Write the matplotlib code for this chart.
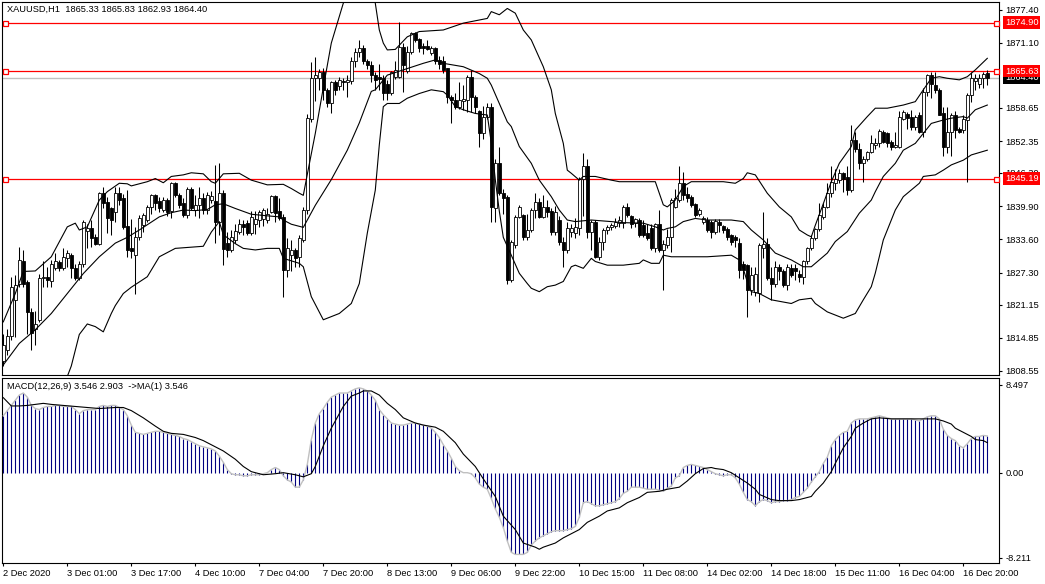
import numpy as np
import matplotlib
matplotlib.use("Agg")
import matplotlib.pyplot as plt

plt.rcParams['font.family'] = ['Liberation Sans', 'DejaVu Sans']

# ---------------- data ----------------
title_text = "XAUUSD,H1  1865.33 1865.83 1862.93 1864.40"
macd_text = "MACD(12,26,9) 3.546 2.903  ->MA(1) 3.546"

opens = [
 1810.5, 1812.5, 1815.3, 1822.0, 1825.2, 1829.5, 1825.5, 1819.8, 1816.5, 1818.2,
 1826.2, 1826.5, 1825.6, 1828.1, 1829.3, 1828.1, 1830.0, 1830.6, 1828.2, 1826.2,
 1829.0, 1835.2, 1835.7, 1834.0, 1832.8, 1842.4, 1840.8, 1839.5, 1838.9, 1842.4,
 1841.4, 1836.2, 1832.0, 1830.6, 1834.1, 1836.4, 1837.3, 1839.8, 1842.0, 1841.0,
 1839.2, 1841.1, 1839.0, 1844.3, 1842.1, 1840.5, 1838.2, 1843.3, 1839.3, 1840.1,
 1841.5, 1839.2, 1841.2, 1841.0, 1837.0, 1842.5, 1833.0, 1831.6, 1833.5, 1835.0,
 1836.5, 1836.8, 1834.8, 1836.6, 1837.3, 1837.5, 1837.3, 1838.8, 1841.9, 1839.0,
 1837.9, 1827.8, 1830.7, 1831.6, 1830.3, 1833.5, 1839.2, 1856.5, 1864.3, 1864.3,
 1865.5, 1862.1, 1859.5, 1863.5, 1862.8, 1863.8, 1863.6, 1863.7, 1867.5, 1869.4,
 1870.0, 1867.5, 1866.9, 1864.9, 1864.5, 1864.3, 1863.3, 1861.4, 1864.5, 1864.6,
 1870.3, 1865.6, 1869.4, 1872.9, 1871.7, 1870.5, 1870.5, 1869.2, 1870.0, 1867.8,
 1867.5, 1866.2, 1860.8, 1860.2, 1858.9, 1860.0, 1860.2, 1864.6, 1860.8, 1858.0,
 1853.8, 1857.0, 1858.9, 1839.5, 1848.1, 1842.4, 1841.7, 1825.9, 1832.5, 1837.9,
 1838.2, 1834.1, 1835.4, 1839.2, 1840.8, 1837.9, 1839.8, 1839.1, 1835.0, 1837.3,
 1833.2, 1831.6, 1835.0, 1834.8, 1835.7, 1845.2, 1847.5, 1835.1, 1837.0, 1830.3,
 1833.2, 1835.4, 1836.0, 1836.2, 1836.8, 1836.7, 1839.8, 1838.0, 1836.8, 1837.3,
 1836.3, 1834.8, 1835.7, 1831.9, 1836.6, 1831.6, 1832.5, 1834.1, 1839.8, 1841.1,
 1844.3, 1842.2, 1841.6, 1840.3, 1838.5, 1837.0, 1837.3, 1836.9, 1835.1, 1837.0,
 1836.1, 1835.5, 1834.4, 1834.1, 1832.9, 1829.0, 1828.7, 1824.0, 1823.5, 1823.4,
 1832.0, 1832.8, 1826.2, 1825.2, 1828.4, 1827.5, 1824.9, 1828.1, 1828.1, 1827.1,
 1826.5, 1829.4, 1831.9, 1833.8, 1835.5, 1837.9, 1839.8, 1842.4, 1844.3, 1845.0,
 1846.2, 1845.5, 1843.0, 1852.5, 1850.9, 1848.1, 1849.0, 1850.3, 1851.6, 1851.9,
 1854.1, 1853.8, 1852.2, 1851.3, 1851.3, 1856.6, 1857.5, 1856.9, 1855.1, 1857.3,
 1854.1, 1861.7, 1864.9, 1863.0, 1862.1, 1857.6, 1851.3, 1854.1, 1857.3, 1854.7,
 1854.4, 1856.3, 1861.1, 1863.7, 1863.3, 1864.3, 1865.33]

highs = [
 1815.5, 1816.5, 1826.5, 1826.8, 1832.2, 1831.6, 1825.8, 1820.5, 1820.0, 1827.0,
 1829.5, 1828.4, 1829.7, 1831.0, 1829.7, 1831.9, 1831.6, 1831.0, 1829.0, 1829.4,
 1837.3, 1836.5, 1837.3, 1834.7, 1842.7, 1843.5, 1841.7, 1839.8, 1843.6, 1843.6,
 1842.3, 1843.0, 1837.5, 1836.0, 1838.2, 1838.6, 1840.1, 1842.2, 1842.3, 1841.7,
 1841.7, 1841.5, 1844.6, 1844.6, 1842.4, 1841.4, 1843.6, 1843.6, 1842.0, 1843.5,
 1842.5, 1842.6, 1842.8, 1847.8, 1848.1, 1843.0, 1835.0, 1835.4, 1836.5, 1837.5,
 1837.3, 1837.3, 1839.1, 1839.1, 1839.2, 1839.5, 1839.5, 1842.1, 1842.1, 1841.5,
 1838.5, 1833.8, 1833.5, 1831.9, 1834.4, 1839.8, 1857.5, 1867.4, 1868.4, 1866.0,
 1866.3, 1862.4, 1863.7, 1864.0, 1864.5, 1864.3, 1865.0, 1868.4, 1870.0, 1871.6,
 1870.6, 1868.0, 1867.5, 1865.5, 1867.1, 1865.0, 1864.0, 1865.6, 1867.5, 1875.1,
 1871.0, 1870.5, 1873.2, 1873.2, 1871.9, 1871.0, 1871.5, 1870.5, 1870.3, 1868.5,
 1868.5, 1866.2, 1861.1, 1861.5, 1863.6, 1863.0, 1864.9, 1865.9, 1861.1, 1858.2,
 1859.0, 1859.5, 1859.5, 1849.0, 1851.3, 1843.3, 1842.0, 1833.5, 1838.2, 1840.2,
 1838.5, 1838.5, 1839.5, 1842.4, 1841.4, 1842.0, 1841.1, 1839.5, 1840.0, 1838.0,
 1834.0, 1837.0, 1836.5, 1837.6, 1845.5, 1850.0, 1849.0, 1837.3, 1837.3, 1834.0,
 1835.7, 1836.3, 1836.7, 1837.6, 1838.0, 1840.1, 1840.5, 1838.3, 1837.6, 1837.6,
 1837.3, 1836.6, 1836.6, 1836.8, 1839.2, 1833.5, 1835.5, 1841.4, 1843.3, 1847.5,
 1846.5, 1843.5, 1842.0, 1840.5, 1839.5, 1838.0, 1837.9, 1837.3, 1837.5, 1837.5,
 1836.4, 1836.0, 1834.6, 1834.5, 1833.8, 1829.5, 1829.0, 1828.4, 1828.4, 1832.9,
 1838.9, 1833.8, 1828.4, 1829.5, 1829.0, 1828.0, 1829.0, 1829.0, 1829.0, 1827.8,
 1829.7, 1832.2, 1834.4, 1835.7, 1840.5, 1840.5, 1844.3, 1847.5, 1847.1, 1847.1,
 1846.5, 1847.5, 1855.4, 1854.1, 1851.9, 1849.4, 1850.5, 1853.5, 1853.0, 1854.7,
 1854.4, 1854.1, 1852.5, 1854.1, 1858.0, 1858.2, 1857.9, 1858.2, 1857.3, 1857.9,
 1862.4, 1865.2, 1865.5, 1865.5, 1862.4, 1858.9, 1858.9, 1857.6, 1858.0, 1855.0,
 1857.3, 1861.4, 1865.5, 1865.2, 1865.2, 1865.5, 1865.83]

lows = [
 1809.5, 1811.5, 1814.5, 1815.0, 1824.6, 1824.6, 1815.5, 1812.5, 1813.5, 1817.8,
 1824.5, 1824.6, 1824.6, 1827.8, 1827.5, 1827.8, 1828.4, 1826.2, 1825.8, 1825.8,
 1828.4, 1832.0, 1832.2, 1832.5, 1832.5, 1839.5, 1834.8, 1834.5, 1837.0, 1840.2,
 1835.5, 1830.3, 1830.0, 1823.3, 1833.5, 1835.0, 1837.0, 1838.5, 1839.2, 1838.9,
 1838.9, 1838.0, 1837.6, 1841.7, 1839.5, 1837.9, 1837.6, 1839.2, 1838.0, 1837.6,
 1838.5, 1838.5, 1840.5, 1832.9, 1834.4, 1828.7, 1830.3, 1831.3, 1833.0, 1834.6,
 1834.5, 1834.4, 1834.4, 1834.7, 1836.0, 1836.1, 1836.8, 1838.6, 1837.0, 1837.3,
 1822.7, 1826.5, 1827.5, 1828.4, 1828.4, 1833.2, 1838.5, 1856.0, 1860.0, 1862.0,
 1860.1, 1858.9, 1857.6, 1861.1, 1862.0, 1862.1, 1860.8, 1863.3, 1866.5, 1868.4,
 1867.1, 1866.0, 1863.5, 1862.0, 1862.0, 1860.2, 1860.2, 1861.1, 1864.2, 1864.3,
 1861.7, 1865.3, 1869.0, 1871.2, 1869.4, 1869.0, 1869.7, 1868.8, 1867.1, 1866.0,
 1865.3, 1859.5, 1855.7, 1858.5, 1858.5, 1858.2, 1857.9, 1857.9, 1857.6, 1851.3,
 1852.8, 1856.5, 1837.0, 1837.0, 1842.0, 1838.5, 1825.2, 1825.5, 1831.9, 1837.6,
 1833.5, 1833.5, 1835.0, 1837.6, 1837.6, 1837.6, 1837.9, 1834.4, 1834.5, 1832.5,
 1828.4, 1831.0, 1834.0, 1833.8, 1834.5, 1838.0, 1833.8, 1831.6, 1830.0, 1829.7,
 1831.6, 1834.6, 1835.4, 1835.7, 1836.0, 1835.7, 1837.9, 1835.7, 1836.0, 1834.1,
 1834.0, 1833.5, 1831.6, 1831.3, 1831.3, 1824.0, 1832.0, 1831.3, 1839.5, 1840.8,
 1841.1, 1840.8, 1839.8, 1837.9, 1838.0, 1836.5, 1835.0, 1833.8, 1834.7, 1835.0,
 1834.8, 1833.5, 1832.6, 1832.2, 1826.2, 1826.0, 1818.9, 1823.0, 1822.8, 1821.7,
 1830.0, 1825.9, 1822.0, 1824.5, 1825.9, 1824.6, 1824.0, 1826.5, 1825.9, 1825.5,
 1825.2, 1829.0, 1831.6, 1833.5, 1835.2, 1837.5, 1839.5, 1841.7, 1843.0, 1844.3,
 1842.7, 1842.0, 1842.7, 1850.3, 1847.1, 1844.6, 1848.5, 1850.0, 1850.9, 1851.3,
 1851.9, 1851.3, 1850.6, 1851.0, 1851.0, 1856.3, 1854.7, 1854.4, 1854.4, 1853.8,
 1853.2, 1861.0, 1860.5, 1861.4, 1857.3, 1849.4, 1850.0, 1849.4, 1853.0, 1853.8,
 1853.8, 1844.6, 1859.8, 1862.1, 1862.4, 1862.4, 1862.93]

closes = [
 1813.5, 1815.3, 1824.6, 1825.0, 1829.7, 1825.2, 1819.8, 1815.7, 1817.5, 1826.2,
 1826.5, 1825.8, 1829.0, 1829.4, 1828.1, 1830.3, 1831.0, 1828.1, 1826.2, 1829.0,
 1837.0, 1835.8, 1833.8, 1832.8, 1842.4, 1840.5, 1837.6, 1837.3, 1842.4, 1841.1,
 1836.0, 1831.5, 1831.4, 1834.1, 1837.6, 1838.3, 1839.8, 1842.0, 1840.5, 1839.5,
 1841.1, 1838.9, 1844.3, 1842.1, 1840.2, 1838.2, 1843.3, 1839.5, 1840.1, 1841.5,
 1839.2, 1842.0, 1841.8, 1837.0, 1842.5, 1831.7, 1831.6, 1834.1, 1835.2, 1836.6,
 1836.0, 1834.8, 1837.9, 1837.4, 1838.9, 1839.2, 1838.5, 1841.9, 1838.6, 1837.6,
 1827.8, 1831.9, 1831.6, 1830.0, 1833.8, 1839.2, 1856.7, 1864.3, 1864.9, 1865.5,
 1862.1, 1859.5, 1863.5, 1862.1, 1864.0, 1863.6, 1863.9, 1867.5, 1869.4, 1870.0,
 1867.5, 1866.8, 1864.9, 1864.0, 1864.1, 1861.4, 1861.4, 1865.5, 1865.8, 1870.3,
 1866.8, 1869.4, 1872.9, 1871.6, 1870.0, 1870.0, 1869.8, 1870.0, 1867.5, 1867.1,
 1865.9, 1860.8, 1860.2, 1858.9, 1860.2, 1860.3, 1864.6, 1860.8, 1858.9, 1853.8,
 1857.0, 1858.9, 1839.8, 1848.1, 1842.4, 1841.4, 1825.9, 1833.2, 1837.9, 1839.8,
 1834.1, 1835.4, 1839.2, 1840.8, 1837.9, 1839.8, 1838.9, 1835.0, 1838.8, 1833.2,
 1831.6, 1835.7, 1835.7, 1836.0, 1845.2, 1847.5, 1835.1, 1837.0, 1830.3, 1833.2,
 1835.4, 1836.0, 1836.3, 1837.0, 1837.3, 1839.8, 1838.2, 1836.6, 1837.4, 1834.5,
 1834.5, 1833.8, 1831.9, 1836.6, 1831.6, 1832.7, 1834.1, 1841.2, 1841.4, 1844.3,
 1842.1, 1841.4, 1840.2, 1838.2, 1839.3, 1837.6, 1835.4, 1835.1, 1837.2, 1836.4,
 1835.4, 1834.1, 1833.2, 1833.5, 1827.8, 1827.8, 1824.0, 1826.8, 1827.1, 1832.5,
 1832.8, 1826.2, 1825.2, 1828.4, 1827.5, 1824.9, 1828.4, 1826.8, 1827.5, 1826.5,
 1829.4, 1831.9, 1833.8, 1835.5, 1838.2, 1839.8, 1842.4, 1844.6, 1845.2, 1846.2,
 1845.2, 1843.0, 1852.5, 1850.9, 1848.1, 1849.0, 1850.3, 1851.9, 1852.0, 1854.3,
 1852.2, 1851.9, 1851.3, 1851.6, 1856.9, 1857.9, 1856.7, 1855.1, 1857.0, 1854.1,
 1861.7, 1864.9, 1863.3, 1862.1, 1857.3, 1851.3, 1854.1, 1857.3, 1854.4, 1854.1,
 1856.6, 1861.1, 1864.3, 1864.3, 1864.3, 1865.2, 1864.40]

# Bollinger bands (bar index, price)
bb_upper = [(0,1817.9),(3,1823.3),(5,1827.5),(8,1827.6),(12,1830.3),(16,1836.0),(18,1836.7),(19,1835.4),
 (21,1836.0),(24,1841.1),(26,1842.7),(29,1844.3),(31,1844.2),(32,1843.8),(36,1844.6),(38,1845.2),
 (40,1844.4),(42,1845.6),(45,1845.9),(47,1846.3),(50,1846.1),(52,1844.6),(53,1844.3),(55,1846.1),
 (59,1846.2),(62,1844.9),(66,1844.0),(70,1844.1),(72,1843.3),(74,1842.4),(75,1842.0),(76,1846.0),
 (78,1853.8),(80,1862.5),(82,1871.0),(85,1878.6),(87,1881.5),(89,1882.5),(91,1882.0),(93,1878.6),
 (94,1873.5),(95,1871.0),(96,1869.7),(98,1869.8),(101,1872.2),(104,1873.2),(110,1873.5),(115,1874.8),
 (121,1875.7),(122,1877.0),(124,1876.4),(126,1877.6),(128,1876.7),(130,1873.5),(132,1871.6),(135,1866.5),
 (137,1862.1),(138,1857.6),(140,1851.9),(141,1846.8),(142,1846.2),(144,1844.9),(145,1845.6),(148,1845.6),
 (152,1844.9),(154,1844.6),(157,1844.6),(163,1844.6),(164,1842.4),(165,1840.2),(166,1839.8),(168,1841.1),
 (170,1843.7),(172,1844.6),(180,1844.6),(183,1844.3),(185,1845.2),(186,1846.3),(188,1845.9),(191,1842.4),
 (194,1839.8),(197,1837.9),(199,1835.4),(201,1834.45),(202,1834.1),(203,1836.3),(205,1840.4),(207,1844.6),
 (209,1848.1),(212,1851.3),(213,1854.45),(216,1857.0),(218,1858.6),(221,1858.6),(225,1859.2),(228,1859.85),
 (230,1862.1),(232,1864.3),(234,1864.6),(236,1864.3),(239,1864.0),(241,1864.6),(243,1865.9),(246,1868.1)]

bb_middle = [(0,1809.7),(4,1813.8),(8,1816.4),(12,1819.5),(16,1823.3),(20,1827.1),(24,1830.3),(28,1832.9),
 (31,1834.0),(34,1835.4),(39,1837.9),(42,1838.7),(45,1839.2),(48,1839.1),(51,1839.3),(53,1840.2),
 (55,1840.4),(58,1839.5),(62,1838.4),(66,1838.1),(69,1837.9),(70,1837.3),(72,1836.5),(75,1835.9),
 (78,1840.1),(82,1845.0),(86,1850.6),(89,1855.8),(92,1861.8),(93,1862.1),(96,1864.9),(100,1865.9),
 (105,1867.15),(108,1867.8),(110,1867.15),(115,1866.5),(119,1865.2),(121,1864.3),(122,1863.0),(124,1859.5),
 (126,1856.0),(127,1855.1),(129,1851.3),(132,1848.1),(134,1844.9),(137,1841.75),(139,1839.2),(141,1837.3),
 (143,1837.0),(147,1837.3),(152,1837.0),(155,1836.8),(160,1836.7),(163,1836.0),(165,1835.4),(166,1835.7),
 (168,1836.0),(170,1837.0),(173,1837.6),(176,1837.3),(182,1837.3),(185,1837.0),(187,1835.4),(190,1833.5),
 (193,1831.0),(197,1829.7),(200,1828.4),(202,1828.4),(206,1831.0),(208,1833.2),(211,1835.1),(214,1838.6),
 (217,1841.1),(218,1842.7),(220,1845.6),(223,1848.1),(225,1850.6),(228,1851.9),(230,1853.8),(232,1855.7),
 (235,1856.35),(237,1856.7),(240,1857.0),(241,1856.7),(243,1858.3),(246,1859.2)]

bb_lower = [(16,1807.5),(17,1809.5),(18,1812.5),(19,1815.5),(21,1817.5),(23,1817.0),(25,1816.0),(27,1819.5),
 (28,1821.0),(30,1823.3),(32,1824.5),(36,1826.5),(39,1830.3),(43,1831.9),(50,1832.3),(52,1835.0),
 (54,1837.0),(55,1834.5),(58,1832.8),(60,1831.9),(63,1831.6),(66,1831.9),(69,1831.9),(70,1830.0),
 (74,1829.05),(75,1828.4),(77,1822.7),(80,1818.3),(84,1819.5),(87,1821.4),(89,1825.2),(91,1834.8),
 (93,1843.0),(94,1851.6),(95,1858.9),(96,1859.5),(99,1859.5),(101,1860.5),(104,1861.4),(107,1862.1),
 (110,1861.75),(111,1861.1),(113,1858.9),(115,1858.3),(118,1857.6),(121,1857.3),(122,1852.0),(123,1845.0),
 (124,1839.0),(125,1834.0),(127,1830.6),(129,1827.15),(131,1825.2),(132,1824.3),(134,1823.65),(136,1824.6),
 (138,1824.9),(140,1825.6),(142,1828.4),(143,1828.7),(145,1828.1),(147,1830.0),(148,1829.4),(151,1828.7),
 (155,1828.7),(159,1829.05),(160,1829.7),(162,1829.05),(164,1829.05),(165,1830.6),(167,1830.3),(176,1830.3),
 (182,1830.6),(184,1829.7),(185,1828.0),(186,1825.5),(187,1823.65),(189,1823.3),(192,1822.1),(197,1821.4),
 (199,1822.1),(202,1822.4),(203,1821.4),(206,1819.8),(208,1819.2),(210,1818.6),(212,1819.2),(213,1819.5),
 (215,1822.1),(217,1824.6),(218,1827.2),(219,1830.3),(220,1833.5),(223,1839.2),(225,1841.75),(229,1844.3),
 (230,1845.6),(233,1845.9),(235,1846.8),(237,1847.8),(240,1848.7),(242,1849.7),(246,1850.6)]

macd = [
 5.5, 6.0, 6.5, 7.0, 7.5, 7.7, 7.3, 6.5, 6.2, 6.1,
 6.3, 6.4, 6.4, 6.5, 6.5, 6.4, 6.4, 6.4, 6.1, 5.7,
 6.0, 6.1, 6.1, 6.1, 6.4, 6.5, 6.4, 6.5, 6.5, 6.3,
 6.1, 5.5, 4.6, 3.9, 3.8, 3.7, 3.8, 3.9, 4.0, 4.0,
 3.9, 3.8, 3.7, 3.6, 3.5, 3.3, 3.2, 3.0, 2.8, 2.6,
 2.5, 2.4, 2.3, 2.1, 1.6, 1.0, 0.3, -0.1, -0.2, -0.2,
 -0.3, -0.3, -0.2, -0.2, -0.2, -0.1, 0.0, 0.3, 0.5, 0.3,
 -0.3, -0.7, -0.9, -1.4, -1.4, -0.7, 0.8, 3.2, 4.8, 5.7,
 6.2, 6.8, 7.3, 7.5, 7.7, 7.7, 7.7, 7.9, 8.1, 8.2,
 8.1, 7.9, 7.5, 7.0, 6.1, 5.6, 5.2, 4.8, 4.7, 4.6,
 4.6, 4.7, 4.8, 4.8, 4.7, 4.6, 4.5, 4.3, 3.9, 3.4,
 2.7, 2.1, 1.4, 0.6, 0.2, 0.0, 0.0, -0.1, -0.5, -1.1,
 -1.4, -1.6, -2.5, -3.5, -4.3, -5.3, -6.6, -7.7, -7.9, -7.9,
 -7.9, -7.7, -7.0, -6.6, -6.3, -6.1, -5.9, -5.7, -5.6, -5.6,
 -5.6, -5.5, -5.4, -5.2, -4.3, -2.9, -2.8, -3.0, -3.2, -3.2,
 -3.1, -3.0, -2.9, -2.8, -2.5, -2.0, -1.8, -1.4, -1.4, -1.4,
 -1.5, -1.6, -1.6, -1.6, -1.7, -1.8, -1.5, -1.3, -0.5, -0.3,
 0.5, 0.7, 0.8, 0.7, 0.6, 0.5, 0.3, 0.1, -0.1, -0.2,
 -0.3, -0.2, -0.2, -0.5, -1.1, -1.9, -2.6, -2.8, -3.2, -2.8,
 -2.6, -2.7, -2.9, -2.8, -2.8, -2.7, -2.7, -2.6, -2.4, -2.3,
 -1.9, -1.5, -0.9, -0.4, 0.1, 0.9, 1.5, 2.6, 3.2, 3.6,
 3.9, 4.0, 4.8, 5.1, 5.2, 5.2, 5.2, 5.3, 5.4, 5.5,
 5.4, 5.3, 5.2, 5.2, 5.2, 5.2, 5.2, 5.2, 5.1, 5.0,
 5.2, 5.4, 5.5, 5.5, 5.2, 4.2, 3.6, 3.3, 3.1, 2.6,
 2.4, 2.8, 3.3, 3.5, 3.5, 3.6, 3.546]

signal = [(0,7.25),(2,6.45),(4,6.45),(6,6.5),(8,6.6),(10,6.7),(12,6.6),(15,6.5),(18,6.4),(21,6.3),
 (24,6.2),(28,6.3),(30,6.3),(32,6.0),(35,5.3),(38,4.5),(40,4.0),(42,3.8),(45,3.7),(48,3.4),
 (50,3.1),(52,2.7),(55,2.1),(58,1.3),(60,0.6),(62,0.1),(65,-0.2),(68,-0.1),(70,0.0),(73,-0.2),
 (75,-0.4),(77,-0.1),(78,0.6),(80,2.6),(82,4.3),(85,6.4),(87,7.4),(89,7.7),(90,7.9),(92,7.9),
 (94,7.5),(96,6.7),(98,6.1),(100,5.3),(103,4.8),(105,4.6),(108,4.4),(110,4.0),(113,2.9),(115,1.8),
 (118,0.6),(120,-0.6),(123,-2.3),(125,-4.2),(128,-5.5),(130,-6.8),(133,-7.2),(134,-7.4),(135,-7.2),(138,-6.8),
 (140,-6.3),(144,-5.5),(146,-4.8),(149,-4.2),(151,-3.7),(154,-3.4),(156,-2.9),(159,-2.4),(161,-1.9),(164,-1.8),
 (166,-1.6),(169,-1.4),(171,-0.8),(173,-0.1),(175,0.4),(177,0.5),(178,0.4),(180,0.3),(182,0.0),(184,-0.5),
 (186,-1.0),(188,-1.6),(189,-2.1),(192,-2.6),(194,-2.7),(197,-2.7),(199,-2.6),(202,-2.3),(203,-1.8),(205,-1.0),
 (207,0.1),(208,0.9),(210,2.4),(212,3.5),(213,4.3),(215,4.8),(217,5.2),(219,5.3),(222,5.2),(225,5.2),
 (228,5.2),(231,5.2),(233,5.2),(235,5.0),(237,4.7),(238,4.3),(240,3.9),(242,3.5),(243,3.2),(245,3.1),(246,2.9)]

red_levels = [1874.90, 1865.63, 1845.19]
bid_level = 1864.40
price_ticks = [1877.40, 1871.10, 1858.65, 1852.35, 1846.30, 1839.90, 1833.60,
               1827.30, 1821.15, 1814.85, 1808.55]
macd_ticks = [8.497, 0.0, -8.211]
macd_tick_labels = ["8.497", "0.00", "-8.211"]
time_tick_bars = [0, 16, 32, 48, 64, 80, 96, 112, 128, 144, 160, 176, 192, 208, 224, 240]
time_labels = ["2 Dec 2020", "3 Dec 01:00", "3 Dec 17:00", "4 Dec 10:00", "7 Dec 04:00",
               "7 Dec 20:00", "8 Dec 13:00", "9 Dec 06:00", "9 Dec 22:00", "10 Dec 15:00",
               "11 Dec 08:00", "14 Dec 02:00", "14 Dec 18:00", "15 Dec 11:00",
               "16 Dec 04:00", "16 Dec 20:00"]

# ---------------- figure ----------------
W, H = 1045, 584
FS = 6.7
fig = plt.figure(figsize=(W / 100, H / 100), dpi=100)
fig.patch.set_facecolor('white')


def px_axes(x0, y0, x1, y1):
    return fig.add_axes([x0 / W, 1 - y1 / H, (x1 - x0) / W, (y1 - y0) / H])


ax = px_axes(2.3, 1.7, 999.3, 375.0)
ax2 = px_axes(2.3, 377.7, 999.3, 562.7)

o = np.array(opens); h = np.array(highs); l = np.array(lows); c = np.array(closes)
n = len(c)
assert len(o) == n and len(h) == n and len(l) == n and len(macd) == n
x = np.arange(n)

XMIN, XMAX = -0.25, 249.0
for a in (ax, ax2):
    a.set_xlim(XMIN, XMAX)
    for s in a.spines.values():
        s.set_linewidth(0.8)
        s.set_color('black')

ax.set_ylim(1807.78, 1878.886)

# horizontal levels
ax.axhline(bid_level, color='#c0c0c0', lw=1.0, zorder=1)
for lv in red_levels:
    ax.axhline(lv, color='red', lw=0.9, zorder=1.5)
    ax.plot([0.5, 248.25], [lv, lv], ls='none', marker='s', ms=3.6, mfc='white',
            mec='red', mew=0.9, zorder=6, clip_on=False)

# candles
ax.vlines(x, l, h, color='black', lw=0.75, zorder=2)
up = c >= o
bottom = np.minimum(o, c)
height = np.maximum(np.abs(c - o), 0.06)
ax.bar(x[up], height[up], bottom=bottom[up], width=0.62, facecolor='white',
       edgecolor='black', linewidth=0.6, zorder=3)
ax.bar(x[~up], height[~up], bottom=bottom[~up], width=0.62, facecolor='black',
       edgecolor='black', linewidth=0.6, zorder=3)

# bollinger bands
for band in (bb_upper, bb_middle, bb_lower):
    bx, by = zip(*band)
    ax.plot(bx, by, color='black', lw=0.8, zorder=4)

# price axis
ax.set_xticks([])
ax.yaxis.tick_right()
ax.set_yticks(price_ticks)
ax.set_yticklabels([f"{v:.2f}" for v in price_ticks])
ax.tick_params(axis='y', direction='out', length=2.2, width=0.8, pad=2.2, labelsize=FS)


# boxed price labels (bid box first so the red level box sits on top, as in MT4)
def price_box(axis, val, text, fc, z):
    axis.annotate(text, xy=(1.0, val), xycoords=('axes fraction', 'data'),
                  xytext=(5.5, 0), textcoords='offset pixels', ha='left', va='center',
                  fontsize=FS, color='white', annotation_clip=False, zorder=z,
                  bbox=dict(boxstyle='square,pad=0.18', fc=fc, ec='none'))


price_box(ax, bid_level, f"{bid_level:.2f}", 'black', 9)
for lv in red_levels:
    price_box(ax, lv, f"{lv:.2f}", 'red', 10)

# MACD panel
ax2.set_ylim(-8.70, 9.18)
ax2.vlines(x, 0, macd, color='#000080', lw=0.8, zorder=2)
ax2.plot(x, macd, color='#c0c0c0', lw=1.0, zorder=3)
sx, sy = zip(*signal)
ax2.plot(sx, sy, color='black', lw=0.8, zorder=4)

ax2.yaxis.tick_right()
ax2.set_yticks(macd_ticks)
ax2.set_yticklabels(macd_tick_labels)
ax2.tick_params(axis='y', direction='out', length=2.2, width=0.8, pad=2.2, labelsize=FS)
ax2.set_xticks(time_tick_bars)
ax2.set_xticklabels(time_labels)
ax2.tick_params(axis='x', direction='out', length=2.2, width=0.8, pad=2.0, labelsize=FS)
for t in ax2.get_xticklabels():
    t.set_ha('left')

# texts
fig.text(7 / W, 1 - 9.5 / H, title_text, fontsize=FS, color='black', ha='left', va='center')
fig.text(7 / W, 1 - 386.5 / H, macd_text, fontsize=FS, color='black', ha='left', va='center')

fig.savefig('out.png', dpi=100, facecolor='white')
